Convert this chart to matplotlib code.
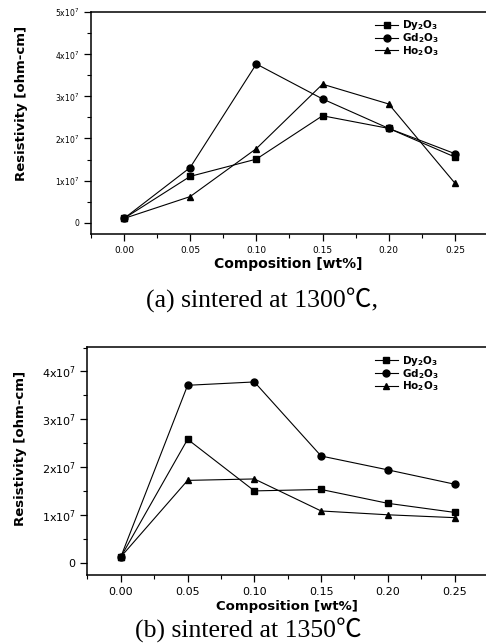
import matplotlib
matplotlib.use("Agg")
import matplotlib.pyplot as plt
from matplotlib.ticker import MultipleLocator, FixedLocator, FixedFormatter

composition = [0.00, 0.05, 0.10, 0.15, 0.20, 0.25]

# (a) sintered at 1300 C
dy_1300 = [0.10e7, 1.10e7, 1.51e7, 2.54e7, 2.24e7, 1.56e7]
gd_1300 = [0.10e7, 1.31e7, 3.77e7, 2.94e7, 2.24e7, 1.64e7]
ho_1300 = [0.10e7, 0.62e7, 1.76e7, 3.29e7, 2.82e7, 0.94e7]

# (b) sintered at 1350 C
dy_1350 = [0.12e7, 2.58e7, 1.50e7, 1.53e7, 1.24e7, 1.05e7]
gd_1350 = [0.12e7, 3.71e7, 3.78e7, 2.23e7, 1.94e7, 1.64e7]
ho_1350 = [0.12e7, 1.72e7, 1.75e7, 1.08e7, 1.00e7, 0.94e7]

series_names = [r'Dy$_2$O$_3$', r'Gd$_2$O$_3$', r'Ho$_2$O$_3$']
markers = ['s', 'o', '^']
xtick_labels = ['0.00', '0.05', '0.10', '0.15', '0.20', '0.25']
ytick_labels_a = ['0', '1x10$^7$', '2x10$^7$', '3x10$^7$', '4x10$^7$', '5x10$^7$']
ytick_labels_b = ['0', '1x10$^7$', '2x10$^7$', '3x10$^7$', '4x10$^7$']
caption_a = '(a) sintered at 1300℃,'
caption_b = '(b) sintered at 1350℃'
ylabel = 'Resistivity [ohm-cm]'
xlabel = 'Composition [wt%]'

plt.rcParams['mathtext.default'] = 'regular'

fig = plt.figure(figsize=(4.86, 6.43), dpi=100)

def style_axes(ax, ylabels, ymax, xtick_fs, ytick_fs, ylab_fs, xlab_fs):
    ax.spines['right'].set_visible(False)
    for s in ['left', 'bottom', 'top']:
        ax.spines[s].set_linewidth(1.1)
    ax.set_xlim(-0.025, 0.2735)
    ax.set_ylim(-0.27e7, ymax)
    ax.xaxis.set_major_locator(FixedLocator(composition))
    ax.xaxis.set_major_formatter(FixedFormatter(xtick_labels))
    ax.xaxis.set_minor_locator(MultipleLocator(0.025))
    yt = [i * 1e7 for i in range(len(ylabels))]
    ax.yaxis.set_major_locator(FixedLocator(yt))
    ax.yaxis.set_major_formatter(FixedFormatter(ylabels))
    ax.yaxis.set_minor_locator(MultipleLocator(0.5e7))
    ax.tick_params(which='major', direction='out', length=5, width=0.9,
                   top=False, right=False)
    ax.tick_params(axis='x', which='major', labelsize=xtick_fs)
    ax.tick_params(axis='y', which='major', labelsize=ytick_fs)
    ax.tick_params(which='minor', direction='out', length=3, width=0.8,
                   top=False, right=False)
    ax.set_ylabel(ylabel, fontsize=ylab_fs, fontweight='bold')
    ax.set_xlabel(xlabel, fontsize=xlab_fs, fontweight='bold')

def draw(ax, dy, gd, ho, leg_fs, anchor):
    for vals, name, m in zip([dy, gd, ho], series_names, markers):
        ax.plot(composition, vals, color='black', lw=0.8, marker=m,
                markersize=5, label=name, clip_on=False)
    ax.legend(loc='upper right', bbox_to_anchor=anchor, frameon=False,
              handlelength=2.2, handletextpad=0.4,
              labelspacing=-0.1, borderpad=0.2,
              prop={'weight': 'bold', 'size': leg_fs})

# top panel
ax1 = fig.add_axes([0.187, 0.636, 0.813, 0.345])
draw(ax1, dy_1300, gd_1300, ho_1300, 7.5, (0.90, 1.005))
style_axes(ax1, ytick_labels_a, 5e7, 6.5, 5.5, 9.5, 10)
ax1.yaxis.set_label_coords(-0.16, 0.59)
ax1.xaxis.labelpad = 1.5

# bottom panel
ax2 = fig.add_axes([0.180, 0.105, 0.820, 0.356])
draw(ax2, dy_1350, gd_1350, ho_1350, 7.5, (0.90, 1.0))
style_axes(ax2, ytick_labels_b, 4.52e7, 8, 8, 9.5, 9.5)
ax2.yaxis.set_label_coords(-0.152, 0.555)
ax2.xaxis.labelpad = 2

serif = ['Liberation Serif', 'Noto Sans CJK KR', 'DejaVu Serif']
fig.text(262 / 486, (643 - 300) / 643, caption_a, ha='center', va='center',
         fontsize=18.5, family=serif)
fig.text(248 / 486, (643 - 630) / 643, caption_b, ha='center', va='center',
         fontsize=18.5, family=serif)

fig.savefig('out.png', dpi=100)
